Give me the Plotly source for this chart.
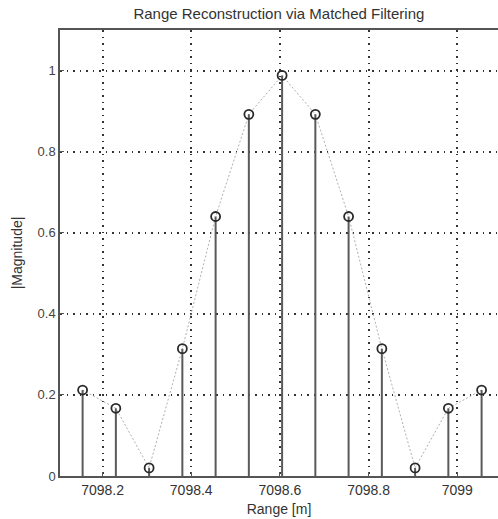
import plotly.graph_objects as go

range_m = [7098.155, 7098.23, 7098.305, 7098.38, 7098.455, 7098.53, 7098.605,
           7098.68, 7098.755, 7098.83, 7098.905, 7098.98, 7099.055]
magnitude = [0.212, 0.167, 0.02, 0.314, 0.64, 0.892, 0.988,
             0.892, 0.64, 0.314, 0.02, 0.167, 0.212]
x_ticks = [7098.2, 7098.4, 7098.6, 7098.8, 7099.0]
x_tick_text = ["7098.2", "7098.4", "7098.6", "7098.8", "7099"]
y_ticks = [0, 0.2, 0.4, 0.6, 0.8, 1.0]
y_tick_text = ["0", "0.2", "0.4", "0.6", "0.8", "1"]

stem_x, stem_y = [], []
for xv, yv in zip(range_m, magnitude):
    stem_x += [xv, xv, None]
    stem_y += [0, yv, None]

fig = go.Figure()
# envelope (dotted thin line through samples)
fig.add_trace(go.Scatter(x=range_m, y=magnitude, mode="lines",
                         line=dict(color="#b0b0b0", width=1, dash="2px,2px"),
                         hoverinfo="skip", showlegend=False))
# stems
fig.add_trace(go.Scatter(x=stem_x, y=stem_y, mode="lines",
                         line=dict(color="#5a5a5a", width=2),
                         hoverinfo="skip", showlegend=False))
# markers
fig.add_trace(go.Scatter(x=range_m, y=magnitude, mode="markers",
                         marker=dict(symbol="circle-open", size=9,
                                     color="#2a2a2a", line=dict(width=1.8)),
                         showlegend=False))

fam = "Liberation Sans, Arial, sans-serif"
font = dict(family=fam, size=14, color="#333333")

fig.update_layout(
    width=498, height=519,
    margin=dict(l=60, r=0, t=30, b=43),
    paper_bgcolor="white", plot_bgcolor="white",
    font=font,
    title=dict(text="Range Reconstruction via Matched Filtering",
               x=0.56, xanchor="center", y=0.973, yanchor="middle",
               font=dict(family=fam, size=15, color="#333333")),
    xaxis=dict(range=[7098.104, 7099.092], tickvals=x_ticks, ticktext=x_tick_text,
               showgrid=True, gridcolor="#333333", griddash="1.5px,5px", gridwidth=1.5,
               showline=True, linecolor="#555555", linewidth=1.5, mirror=True,
               ticks="inside", ticklen=4, tickcolor="#555555",
               zeroline=False, tickfont=dict(family=fam, size=14, color="#333333"),
               title=dict(text="Range [m]", standoff=8,
                          font=dict(family=fam, size=14, color="#333333"))),
    yaxis=dict(range=[0, 1.1], tickvals=y_ticks, ticktext=y_tick_text,
               showgrid=True, gridcolor="#333333", griddash="1.5px,5px", gridwidth=1.5,
               showline=True, linecolor="#555555", linewidth=1.5, mirror=False,
               ticks="inside", ticklen=4, tickcolor="#555555",
               zeroline=False, tickfont=dict(family=fam, size=13, color="#444444"),
               title=dict(text="|Magnitude|", standoff=12,
                          font=dict(family=fam, size=14, color="#333333"))),
)

fig.write_html("out.html")
